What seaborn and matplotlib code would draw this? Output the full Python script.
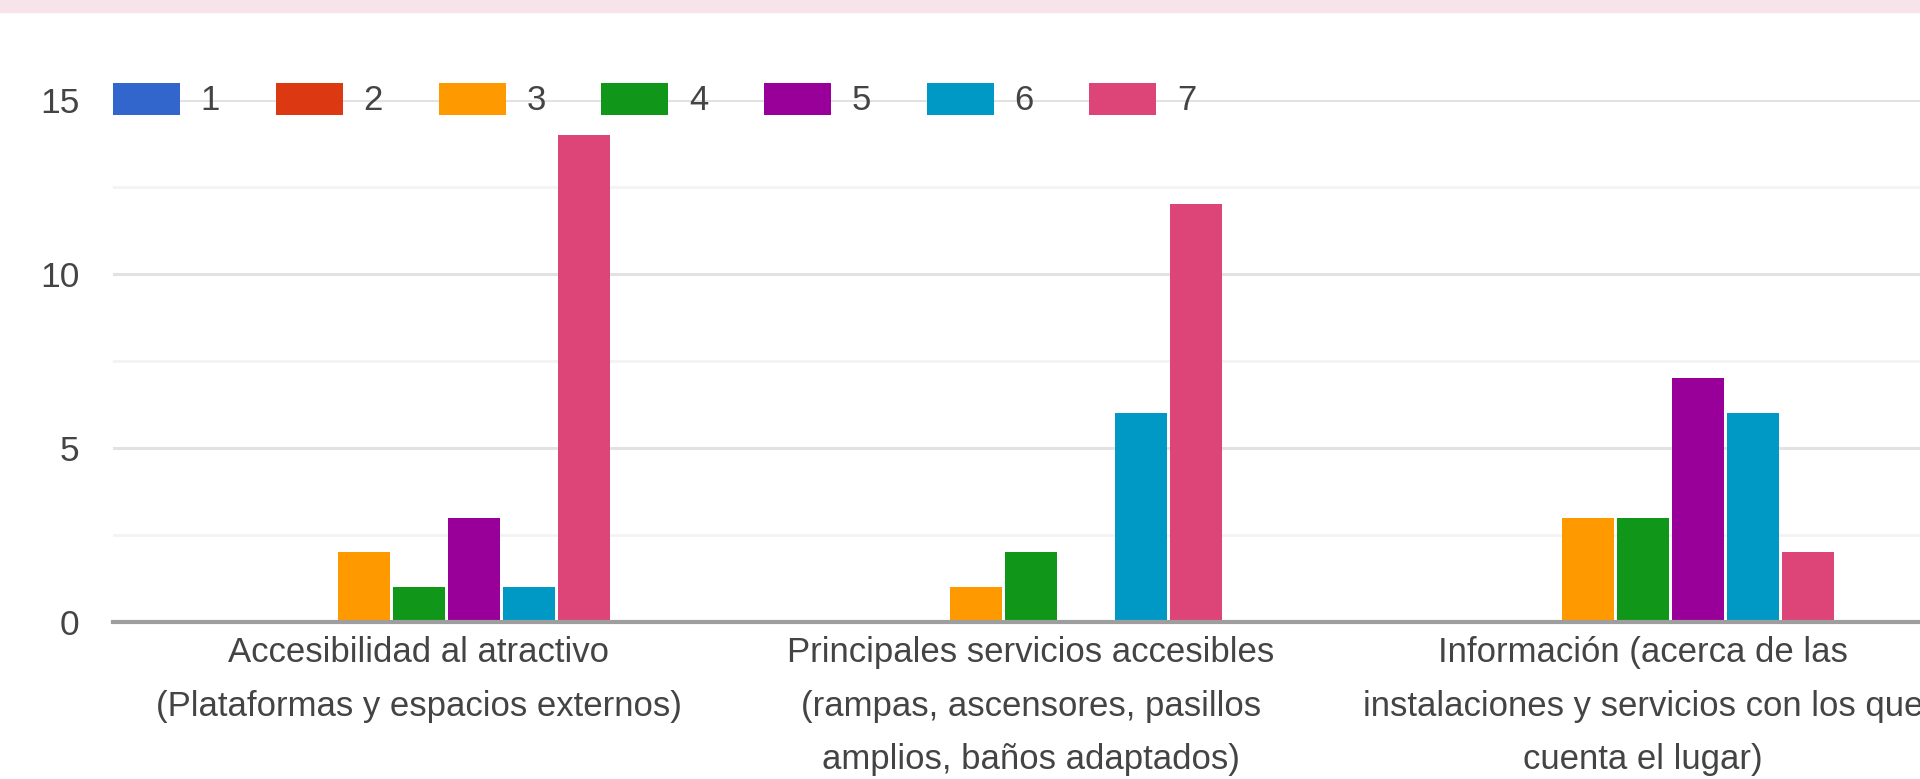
import pandas as pd
import seaborn as sns
import matplotlib.pyplot as plt
from matplotlib.patches import Rectangle

# datos (respuestas por puntuacion 1-7)
categorias = [
    "Accesibilidad al atractivo\n(Plataformas y espacios externos)",
    "Principales servicios accesibles\n(rampas, ascensores, pasillos\namplios, baños adaptados)",
    "Información (acerca de las\ninstalaciones y servicios con los que\ncuenta el lugar)",
]
puntuaciones = ["1", "2", "3", "4", "5", "6", "7"]
accesibilidad = [0, 0, 2, 1, 3, 1, 14]
servicios = [0, 0, 1, 2, 0, 6, 12]
informacion = [0, 0, 3, 3, 7, 6, 2]
colores = ["#3366cc", "#dc3912", "#ff9900", "#109618", "#990099", "#0099c6", "#dd4477"]

filas = []
for cat, valores in zip(categorias, [accesibilidad, servicios, informacion]):
    for p, v in zip(puntuaciones, valores):
        filas.append({"categoria": cat, "puntuacion": p, "respuestas": v})
df = pd.DataFrame(filas)

sns.set_style("white")
plt.rcParams["font.family"] = ["Liberation Sans", "DejaVu Sans"]

fig = plt.figure(figsize=(19.2, 7.79), dpi=100)
fig.patches.append(Rectangle((0, 1 - 12 / 779), 1, 12 / 779, transform=fig.transFigure,
                             color="#f7e3ea", zorder=0))
ax = fig.add_axes([113 / 1920, 1 - 622 / 779, 1836 / 1920, 522 / 779])

sns.barplot(data=df, x="categoria", y="respuestas", hue="puntuacion",
            palette=colores, width=0.63, gap=0.06, linewidth=0,
            saturation=1, ax=ax, zorder=3)

ax.set_xlim(-0.5, 2.5)
ax.set_ylim(0, 15)
ax.set_yticks([0, 5, 10, 15])
ax.set_yticks([2.5, 7.5, 12.5], minor=True)
ax.grid(axis="y", which="major", color="#e2e2e2", lw=2.2, zorder=0)
ax.grid(axis="y", which="minor", color="#f3f3f3", lw=2.0, zorder=0)
ax.set_axisbelow(True)

for s in ["top", "right", "left"]:
    ax.spines[s].set_visible(False)
ax.spines["bottom"].set_color("#9e9e9e")
ax.spines["bottom"].set_linewidth(3)
ax.spines["bottom"].set_zorder(4)

ax.tick_params(axis="y", which="both", length=0, pad=24, labelsize=25.5, labelcolor="#444444")
ax.tick_params(axis="x", length=0, pad=10, labelsize=25, labelcolor="#444444")
for t in ax.get_xticklabels():
    t.set_linespacing(1.8)
    t.set_ha("center")
ax.set_xlabel("")
ax.set_ylabel("")

handles, labels = ax.get_legend_handles_labels()
ax.legend(handles, labels, ncol=7, loc="center left", bbox_to_anchor=(0, 1),
          frameon=False, borderpad=0, borderaxespad=0, fontsize=25,
          handlelength=1.93, handleheight=1.05, handletextpad=0.6,
          columnspacing=1.6, labelcolor="#444444")

fig.savefig("out.png", dpi=100)
